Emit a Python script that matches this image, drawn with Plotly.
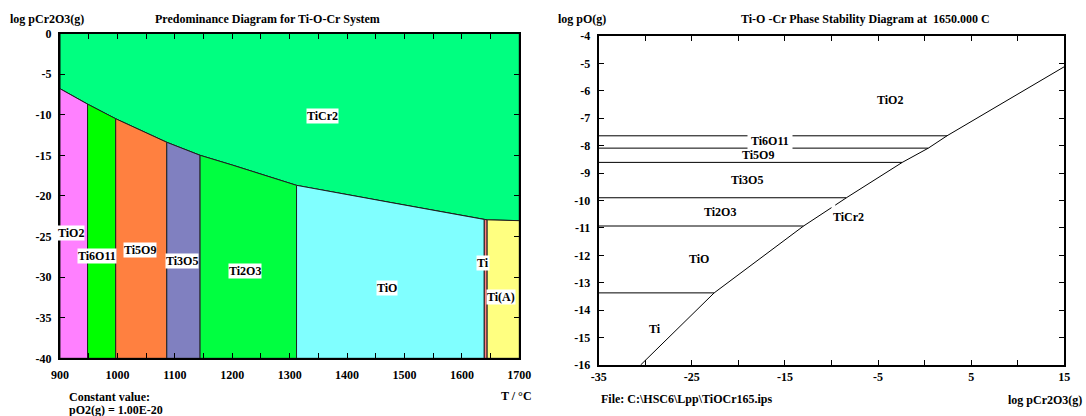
import plotly.graph_objects as go

# ---------------- Left chart data ----------------
phase_names = ["TiO2", "Ti6O11", "Ti5O9", "Ti3O5", "Ti2O3", "TiO", "Ti", "Ti(A)"]
phase_colors = ["#FF80FF", "#00FF00", "#FF8040", "#8080C0", "#00FF40", "#80FFFF", "#FF8080", "#FFFF80"]
phase_bounds = [900, 948, 997, 1086, 1144, 1312, 1639, 1644, 1700]

curve_T = [900, 948, 997, 1086, 1144, 1200, 1250, 1312, 1475, 1639, 1644, 1700]
curve_logp = [-6.8, -8.7, -10.5, -13.4, -15.0, -16.2, -17.35, -18.7, -20.8, -22.9, -22.95, -23.05]

left_label_text = ["TiCr2", "TiO2", "Ti6O11", "Ti5O9", "Ti3O5", "Ti2O3", "TiO", "Ti", "Ti(A)"]
left_label_T = [1358, 920, 964, 1039, 1113, 1223, 1469, 1636, 1668]
left_label_y = [-10.1, -24.6, -27.4, -26.7, -28.0, -29.2, -31.3, -28.3, -32.4]

left_xticks = list(range(900, 1701, 50))
left_yticks = list(range(-40, 1, 5))

# ---------------- Right chart data ----------------
level_names = ["TiO2/Ti6O11", "Ti6O11/Ti5O9", "Ti5O9/Ti3O5", "Ti3O5/Ti2O3", "Ti2O3/TiO", "TiO/Ti"]
level_logpO = [-7.64, -8.09, -8.61, -9.9, -10.93, -13.37]
level_end_x = [2.4, 0.4, -2.4, -8.4, -13.0, -22.6]

diag1_x = [-30.5, -22.6, -13.0, -10.0]
diag1_y = [-16.0, -13.37, -10.93, -10.26]
diag2_x = [-9.6, -8.4, -2.4, 0.4, 2.4, 15.0]
diag2_y = [-10.17, -9.9, -8.61, -8.09, -7.64, -5.12]

right_label_text = ["TiO2", "Ti6O11", "Ti5O9", "Ti3O5", "Ti2O3", "TiO", "Ti", "TiCr2"]
right_label_x = [-3.7, -16.6, -17.9, -19.1, -22.0, -24.2, -29.0, -8.2]
right_label_y = [-6.34, -7.83, -8.34, -9.26, -10.41, -12.15, -14.67, -10.6]

right_xticks = list(range(-35, 16, 5))
right_xlabels = [-35, -25, -15, -5, 5, 15]
right_yticks = list(range(-16, -3, 1))

FONT = "Liberation Serif, Times New Roman, serif"
FS = 12

fig = go.Figure()

# TiCr2 region (above curve)
fig.add_trace(go.Scatter(
    x=[curve_T[0]] + curve_T + [curve_T[-1]],
    y=[0] + curve_logp + [0],
    fill="toself", fillcolor="#00FF80", mode="lines",
    line=dict(color="black", width=1), hoverinfo="skip", showlegend=False,
    xaxis="x", yaxis="y"))

# phase regions below curve
for i, name in enumerate(phase_names):
    t0, t1 = phase_bounds[i], phase_bounds[i + 1]
    seg = [(t, v) for t, v in zip(curve_T, curve_logp) if t0 <= t <= t1]
    xs = [t0] + [s[0] for s in seg] + [t1, t0]
    ys = [-40] + [s[1] for s in seg] + [-40, -40]
    fig.add_trace(go.Scatter(
        x=xs, y=ys, fill="toself", fillcolor=phase_colors[i], mode="lines",
        line=dict(color="#202020", width=1), hoverinfo="skip", showlegend=False, name=name,
        xaxis="x", yaxis="y"))

# right chart lines
for lv, xe in zip(level_logpO, level_end_x):
    fig.add_trace(go.Scatter(
        x=[-35, xe], y=[lv, lv], mode="lines", line=dict(color="black", width=1),
        hoverinfo="skip", showlegend=False, xaxis="x2", yaxis="y2"))
fig.add_trace(go.Scatter(x=diag1_x, y=diag1_y, mode="lines", line=dict(color="black", width=1),
                         hoverinfo="skip", showlegend=False, xaxis="x2", yaxis="y2"))
fig.add_trace(go.Scatter(x=diag2_x, y=diag2_y, mode="lines", line=dict(color="black", width=1),
                         hoverinfo="skip", showlegend=False, xaxis="x2", yaxis="y2"))

bold = dict(family=FONT, size=FS, color="black", weight="bold")

annotations = []
for t, x, y in zip(left_label_text, left_label_T, left_label_y):
    annotations.append(dict(text=t, x=x, y=y, xref="x", yref="y", showarrow=False,
                            bgcolor="white", borderpad=0, font=bold))
for t, x, y in zip(right_label_text, right_label_x, right_label_y):
    annotations.append(dict(text=t, x=x, y=y, xref="x2", yref="y2", showarrow=False,
                            bgcolor="white" if t == "Ti6O11" else "rgba(0,0,0,0)", borderpad=3,
                            font=bold))

def paper_text(text, px, py, anchor="left"):
    annotations.append(dict(text=text, x=px / 1086, y=1 - py / 416, xref="paper", yref="paper",
                            showarrow=False, xanchor=anchor, yanchor="middle", font=bold))

paper_text("log pCr2O3(g)", 8, 19)
paper_text("Predominance Diagram for Ti-O-Cr System", 267, 19, "center")
paper_text("T / °C", 534, 396, "right")
paper_text("Constant value:", 67, 397)
paper_text("pO2(g) = 1.00E-20", 67, 410)
paper_text("log pO(g)", 556, 19)
paper_text("Ti-O -Cr Phase Stability Diagram at  1650.000 C", 865, 19, "center")
paper_text("File: C:\\HSC6\\Lpp\\TiOCr165.ips", 599, 399)
paper_text("log pCr2O3(g)", 1084, 400, "right")

axis_common = dict(showgrid=False, zeroline=False, showline=True, linecolor="black",
                   linewidth=2, mirror="ticks", ticks="inside", ticklen=5, tickwidth=1,
                   tickcolor="black", tickfont=bold, automargin=False)

fig.update_layout(
    width=1086, height=416, margin=dict(l=0, r=0, t=0, b=0, pad=0),
    paper_bgcolor="white", plot_bgcolor="white",
    font=dict(family=FONT, size=FS, color="black"),
    xaxis=dict(domain=[60 / 1086, 519.3 / 1086], range=[900, 1700], anchor="y",
               tickvals=left_xticks,
               ticktext=[str(v) if v % 100 == 0 else "" for v in left_xticks],
               ticklabelstandoff=4, **axis_common),
    yaxis=dict(domain=[1 - 358.3 / 416, 1 - 33.5 / 416], range=[-40, 0], anchor="x",
               tickvals=left_yticks, ticktext=[str(v) for v in left_yticks],
               ticklabelstandoff=4, **axis_common),
    xaxis2=dict(domain=[598.7 / 1086, 1064.3 / 1086], range=[-35, 15], anchor="y2",
                tickvals=right_xticks,
                ticktext=[str(v) if v in right_xlabels else "" for v in right_xticks],
                ticklabelstandoff=0, **axis_common),
    yaxis2=dict(domain=[1 - 365 / 416, 1 - 36 / 416], range=[-16, -4], anchor="x2",
                tickvals=right_yticks, ticktext=[str(v) for v in right_yticks],
                ticklabelstandoff=4, **axis_common),
    annotations=annotations,
)

fig.write_html("out.html")
